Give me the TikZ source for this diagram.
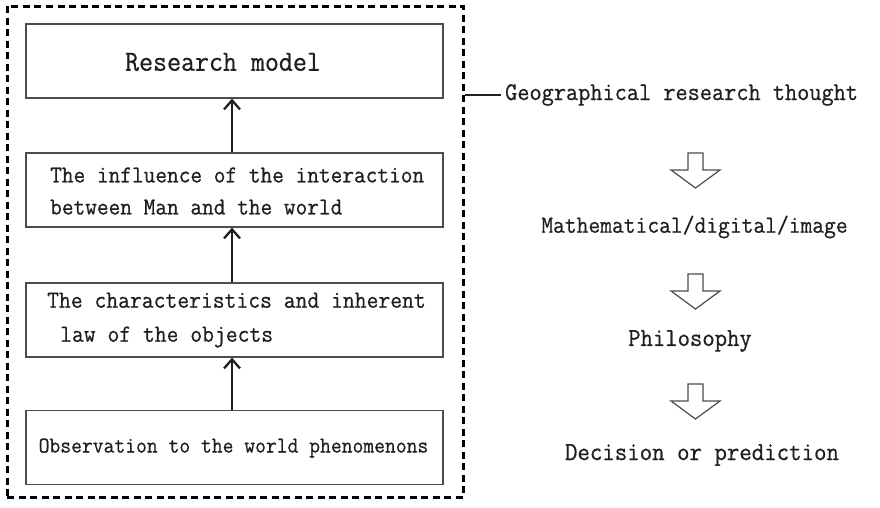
\documentclass[tikz,border=0pt]{standalone}
\usepackage{fontspec}
\setmonofont[FakeStretch=0.93,FakeBold=0.6]{Latin Modern Mono}
\newcommand\fsz[2]{\fontsize{#1}{#2}\selectfont}
\usetikzlibrary{arrows.meta,calc}
\definecolor{ink}{gray}{0.12}
\definecolor{lineg}{gray}{0.3}
\tikzset{
  box/.style={draw=lineg, line width=1.3pt, minimum width=417pt, minimum height=74pt, inner sep=0pt},
  frame/.style={draw=black, line width=3pt, dash pattern=on 7pt off 4.5pt, minimum width=456pt, minimum height=491pt, inner sep=0pt},
  txt/.style={inner sep=0pt, text=ink, align=left},
  conn/.style={draw=ink, line width=1.7pt, -{Straight Barb[length=9pt,width=16pt,line width=2.3pt]}},
  hollow/.pic={\draw[line width=1.2pt, draw=gray!60!black, line join=miter, fill=white]
     (-7.5,0) -- (7.5,0) -- (7.5,17) -- (24.5,17) -- (0,35) -- (-24.5,17) -- (-7.5,17) -- cycle;}
}
\begin{document}
\begin{tikzpicture}[x=1pt,y=-1pt]
\useasboundingbox (0,0) rectangle (880,507);
\node[frame] (frame) at (235,251.5) {};
% boxes
\node[box] (b1) at (234.5,61) {};
\node[box] (b2) at (234.5,190) {};
\node[box] (b3) at (234.5,320) {};
\node[box] (b4) at (234.5,447.5) {};
% texts
\node[txt, font=\ttfamily\fsz{29.2}{32}] (t1) at (223,62) {Research model};
\node[txt, font=\ttfamily\fsz{24.4}{32}, anchor=west] (t2) at (50,191)
  {The influence of the interaction\\between Man and the world};
\node[txt, font=\ttfamily\fsz{24.7}{34}, anchor=west] (t3) at (47,320)
  {The characteristics and inherent\\\hspace*{13pt}law of the objects};
\node[txt, font=\ttfamily\fsz{22.6}{26}] (t4) at (233.5,448) {Observation to the world phenomenons};
% arrows
\draw[conn] ([xshift=-2.5pt]b4.north) -- ([xshift=-2.5pt]b3.south);
\draw[conn] ([xshift=-2.5pt]b3.north) -- ([xshift=-2.5pt]b2.south);
\draw[conn] ([xshift=-2.5pt]b2.north) -- ([xshift=-2.5pt]b1.south);
% right side
\node[txt, font=\ttfamily\fsz{25.4}{28}, anchor=west] (geo) at (505,95) {Geographical research thought};
\draw[ink, line width=1.5pt] (frame.east |- geo.west) -- ([xshift=-4pt]geo.west);
\pic at (695.5,153) {hollow};
\node[txt, font=\ttfamily\fsz{24.6}{28}] (math) at (694.5,227) {Mathematical/digital/image};
\pic at (695.5,274) {hollow};
\node[txt, font=\ttfamily\fsz{25.8}{28}] (phil) at (690,341) {Philosophy};
\pic at (695.5,384) {hollow};
\node[txt, font=\ttfamily\fsz{26}{28}] (dec) at (702,455) {Decision or prediction};
\end{tikzpicture}
\end{document}
